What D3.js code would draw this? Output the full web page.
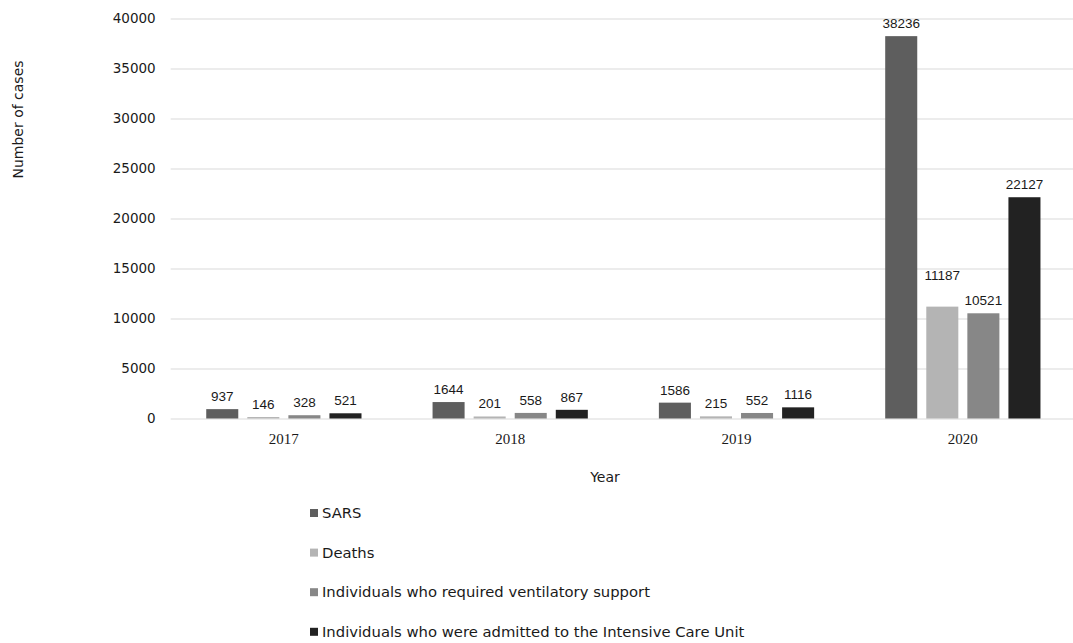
<!DOCTYPE html>
<html>
<head>
<meta charset="utf-8">
<script src="https://cdn.jsdelivr.net/npm/d3@7"></script>
<style>
  html, body { margin: 0; padding: 0; background: #ffffff; }
  svg { display: block; }
</style>
</head>
<body>
<svg id="chart" width="1073" height="643"></svg>
<script>
// ---- data ----
const years = ["2017", "2018", "2019", "2020"];
const seriesNames = [
  "SARS",
  "Deaths",
  "Individuals who required ventilatory support",
  "Individuals who were admitted to the Intensive Care Unit"
];
const sars = [937, 1644, 1586, 38236];
const deaths = [146, 201, 215, 11187];
const ventilatory = [328, 558, 552, 10521];
const icu = [521, 867, 1116, 22127];
const yTicks = [0, 5000, 10000, 15000, 20000, 25000, 30000, 35000, 40000];
const colors = ["#5e5e5e", "#b4b4b4", "#878787", "#222222"];

const seriesValues = [sars, deaths, ventilatory, icu];

// ---- layout ----
const svg = d3.select("#chart");
const plotL = 170.7, plotR = 1076, plotT = 18.5, plotB = 418.5;
const sansFont = "'DejaVu Sans', Verdana, sans-serif";

const y = d3.scaleLinear().domain([0, 40000]).range([plotB, plotT]);
const x0 = d3.scaleBand().domain(years).range([plotL, plotR])
  .paddingInner(0.314).paddingOuter(0.157);
const x1 = d3.scaleBand().domain(d3.range(seriesNames.length))
  .range([0, x0.bandwidth()]).paddingInner(0.22).paddingOuter(0);

// gridlines
const yAxis = d3.axisLeft(y).tickValues(yTicks).tickFormat(d3.format("d"))
  .tickSize(-(plotR - plotL)).tickPadding(15);
const gy = svg.append("g").attr("transform", `translate(${plotL},0)`).call(yAxis);
gy.select(".domain").remove();
gy.selectAll(".tick line").attr("stroke", "#d9d9d9").attr("stroke-width", 1);
gy.selectAll(".tick text")
  .attr("font-family", sansFont)
  .attr("font-size", 13.5)
  .attr("fill", "#1a1a1a");

// x axis labels
const xAxis = d3.axisBottom(x0).tickSize(0).tickPadding(15);
const gx = svg.append("g").attr("transform", `translate(0,${plotB})`).call(xAxis);
gx.select(".domain").remove();
gx.selectAll(".tick text")
  .attr("font-family", "'Liberation Serif', 'Times New Roman', serif")
  .attr("font-size", 15)
  .attr("fill", "#1a1a1a");

// bars
const rows = [];
years.forEach((yr, i) => {
  seriesValues.forEach((vals, s) => {
    rows.push({ year: yr, s: s, v: vals[i] });
  });
});

svg.append("g").selectAll("rect").data(rows).join("rect")
  .attr("x", d => x0(d.year) + x1(d.s))
  .attr("y", d => y(d.v))
  .attr("width", x1.bandwidth())
  .attr("height", d => y(0) - y(d.v))
  .attr("fill", d => colors[d.s]);

// value labels
const labels = svg.append("g").selectAll("text").data(rows).join("text")
  .attr("x", d => x0(d.year) + x1(d.s) + x1.bandwidth() / 2)
  .attr("y", d => y(d.v) - 8)
  .attr("text-anchor", "middle")
  .attr("font-family", "'Liberation Sans', Arial, sans-serif")
  .attr("font-size", 13.5)
  .attr("fill", "#1a1a1a")
  .text(d => d.v);

// simple collision avoidance: lift the taller bar's label if it crowds a neighbour
const nodes = labels.nodes();
for (let i = 0; i < nodes.length - 1; i++) {
  const a = rows[i], b = rows[i + 1];
  if (a.year !== b.year) continue;
  const ba = nodes[i].getBBox(), bb = nodes[i + 1].getBBox();
  const hGap = bb.x - (ba.x + ba.width);
  const vOverlap = !(ba.y + ba.height < bb.y || bb.y + bb.height < ba.y);
  if (hGap < 6 && vOverlap) {
    const idx = a.v >= b.v ? i : i + 1;
    const other = idx === i ? i + 1 : i;
    const oy = +d3.select(nodes[other]).attr("y");
    d3.select(nodes[idx]).attr("y", oy - 1.7 * bb.height);
  }
}

// axis titles
svg.append("text")
  .attr("transform", `translate(23,${(plotT + plotB) / 2 - 99}) rotate(-90)`)
  .attr("text-anchor", "middle")
  .attr("font-family", sansFont)
  .attr("font-size", 14)
  .attr("fill", "#1a1a1a")
  .text("Number of cases");

svg.append("text")
  .attr("x", 605)
  .attr("y", 482)
  .attr("text-anchor", "middle")
  .attr("font-family", sansFont)
  .attr("font-size", 14)
  .attr("fill", "#1a1a1a")
  .text("Year");

// legend
const legend = svg.append("g").attr("transform", "translate(310,513)");
const li = legend.selectAll("g").data(seriesNames).join("g")
  .attr("transform", (d, i) => `translate(0,${i * 39.6})`);
li.append("rect").attr("x", 0).attr("y", -4).attr("width", 8).attr("height", 8)
  .attr("fill", (d, i) => colors[i]);
li.append("text").attr("x", 12).attr("y", 5)
  .attr("font-family", sansFont)
  .attr("font-size", 14.8)
  .attr("fill", "#1a1a1a")
  .text(d => d);
</script>
</body>
</html>
